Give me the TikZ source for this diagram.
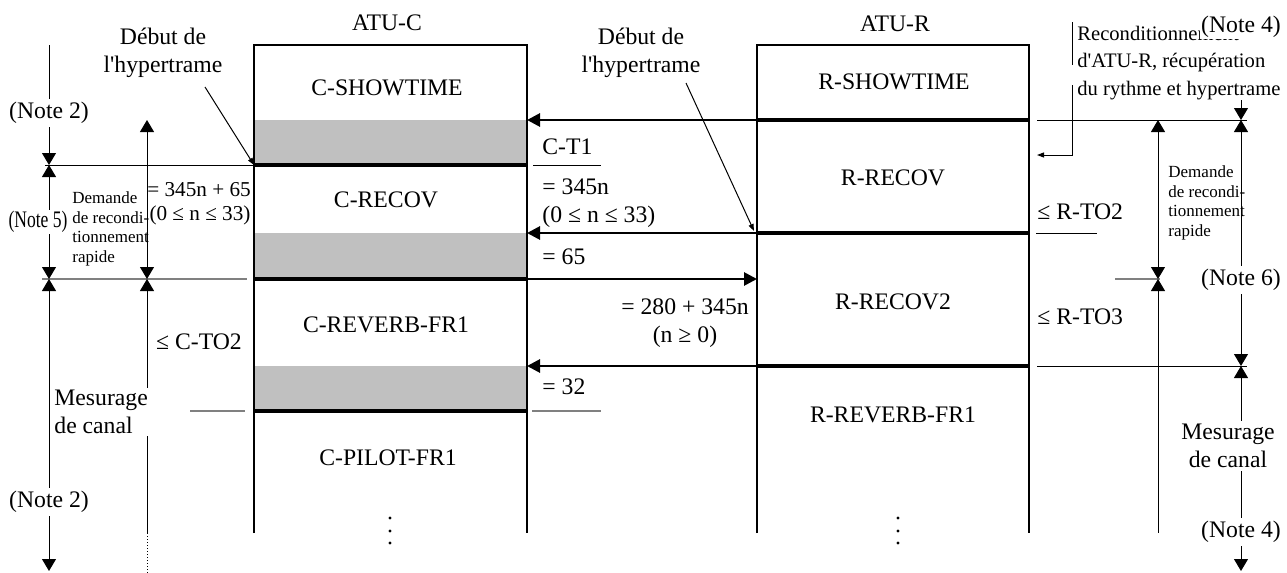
\documentclass[tikz,border=0pt]{standalone}
\usepackage{fontspec}
\usepackage{graphicx}
\setmainfont{Liberation Serif}[Ligatures=TeXOff]
\usetikzlibrary{arrows.meta}
\definecolor{fillgray}{RGB}{192,192,192}
\definecolor{lgray}{RGB}{128,128,128}
\begin{document}
\begin{tikzpicture}[x=0.5pt,y=-0.5pt,
  txt/.style={font=\fontsize{11.85pt}{13.7pt}\selectfont, inner sep=0pt, align=center},
  txtl/.style={font=\fontsize{11.85pt}{13.7pt}\selectfont, inner sep=0pt, align=left},
  mid/.style={font=\fontsize{10.6pt}{12.5pt}\selectfont, inner sep=0pt, align=center},
  rtxt/.style={font=\fontsize{10.3pt}{13.7pt}\selectfont, inner sep=0pt, align=left},
  sml/.style={font=\fontsize{8.5pt}{9.8pt}\selectfont, inner sep=0pt, align=left},
  wbg/.style={fill=white, inner sep=1.5pt},
  boxline/.style={line width=0.9pt},
  sepline/.style={line width=2pt},
  msg/.style={line width=1.4pt, -{Triangle[length=6.5pt,width=6.5pt]}},
  thinl/.style={line width=0.5pt},
  grayl/.style={line width=0.7pt, draw=lgray},
  dt/.tip={Triangle[length=6pt,width=7pt]},
  st/.tip={Triangle[length=3.5pt,width=2.5pt]},
]
\useasboundingbox (0,0) rectangle (1287,573);

% ---------- coordinates ----------
\coordinate (cL45) at (254,45);   \coordinate (cR45) at (527,45);
\coordinate (cL533) at (254,533); \coordinate (cR533) at (527,533);
\coordinate (rL45) at (757,45);   \coordinate (rR45) at (1029,45);
\coordinate (rL533) at (757,533); \coordinate (rR533) at (1029,533);
\foreach \y in {120,165,233,279,366,411}{
  \coordinate (cL\y) at (254,\y); \coordinate (cR\y) at (527,\y);
  \coordinate (rL\y) at (757,\y); \coordinate (rR\y) at (1029,\y);
}

% ---------- ATU-C box ----------
\fill[fillgray] (cL120) rectangle (cR165);
\fill[fillgray] (cL233) rectangle (cR279);
\fill[fillgray] (cL366) rectangle (cR411);
\draw[boxline] (cL533) -- (cL45) -- (cR45) -- (cR533);
\draw[sepline] (cL165) -- (cR165);
\draw[sepline] (cL279) -- (cR279);
\draw[sepline] (cL411) -- (cR411);

% ---------- ATU-R box ----------
\draw[boxline] (rL533) -- (rL45) -- (rR45) -- (rR533);
\draw[sepline] (rL120) -- (rR120);
\draw[sepline] (rL233) -- (rR233);
\draw[sepline] (rL366) -- (rR366);

% ---------- titles and states ----------
\node[txt] (atuc) at (387,23) {ATU-C};
\node[txt] (atur) at (895,24) {ATU-R};
\node[txt] (cshow) at (387,88) {C-SHOWTIME};
\node[txt] (crecov) at (386,200) {C-RECOV};
\node[txt] (creverb) at (386,325) {C-REVERB-FR1};
\node[txt] (cpilot) at (388,458) {C-PILOT-FR1};
\node[txt] (rshow) at (894,82) {R-SHOWTIME};
\node[txt] (rrecov) at (893,178) {R-RECOV};
\node[txt] (rrecov2) at (893,302) {R-RECOV2};
\node[txt] (rreverb) at (893,415) {R-REVERB-FR1};
\foreach \yy in {518,531,543}{
  \fill (390,\yy) circle[radius=0.8pt];
  \fill (898,\yy) circle[radius=0.8pt];
}

% ---------- messages ----------
\draw[msg] (rL120) -- (cR120);
\draw[msg] (rL233) -- (cR233);
\draw[msg] (cR279) -- (rL279);
\draw[msg] (rL366) -- (cR366);

% ---------- middle labels ----------
\node[txt] (deb2) at (641,53) {Début de\\l'hypertrame};
\coordinate (deb2a) at (686,83);
\coordinate (deb2b) at (754,231);
\draw[thinl,-{st}] (deb2a) -- (deb2b);
\node[txtl,anchor=west] (ct1) at (542,147) {C-T1};
\coordinate (u1a) at (533,165); \coordinate (u1b) at (601,165);
\draw[thinl] (u1a) -- (u1b);
\node[txtl,anchor=west] (m345) at (542,187) {= 345n};
\node[txtl,anchor=west] (mn33) at (542,217) {(0 ≤ n ≤ 33)};
\node[txtl,anchor=west] (m65) at (542,257) {= 65};
\node[txt] (m280) at (685,307) {= 280 + 345n};
\node[txt] (mn0) at (685,337) {(n ≥ 0)};
\node[txtl,anchor=west] (m32) at (542,387) {= 32};
\coordinate (u2a) at (532,411); \coordinate (u2b) at (601,411);
\draw[grayl] (u2a) -- (u2b);

% ---------- left side ----------
\coordinate (lh1a) at (45,165);
\draw[thinl] (lh1a) -- (cL165);
\coordinate (lh2a) at (42,279); \coordinate (lh2b) at (247,279);
\draw[grayl] (lh2a) -- (lh2b);
\coordinate (lh3a) at (190,411); \coordinate (lh3b) at (245,411);
\draw[grayl] (lh3a) -- (lh3b);

\node[txt] (deb1) at (163,53) {Début de\\l'hypertrame};
\coordinate (deb1a) at (205,87);
\draw[thinl,-{st}] (deb1a) -- (cL165);

% vertical line x=49
\coordinate (a45) at (49,45); \coordinate (a165) at (49,165);
\coordinate (a279) at (49,279); \coordinate (a571) at (49,571);
\draw[thinl,-{dt}] (a45) -- (a165);
\draw[thinl,{dt}-{dt}] (a165) -- (a279);
\draw[thinl,{dt}-{dt}] (a279) -- (a571);
% vertical line x=147
\coordinate (b120) at (147,120); \coordinate (b279) at (147,279);
\coordinate (b533) at (147,533); \coordinate (b573) at (147,573);
\draw[thinl,{dt}-{dt}] (b120) -- (b279);
\draw[thinl,{dt}-] (b279) -- (b533);
\draw[thinl,densely dotted] (b533) -- (b573);

\node[txt,wbg] (n2a) at (49,113) {(Note 2)};
\node[txt,wbg,inner sep=0.5pt] (n5) at (38,222) {\scalebox{0.74}[1]{(Note 5)}};
\node[txt,wbg] (n2b) at (49,502) {(Note 2)};
\node[txtl,wbg,anchor=west,inner sep=1pt] (mes1) at (52,412) {Mesurage\\de canal};
\node[mid] (eq1) at (199,190) {= 345n + 65};
\node[mid] (eq2) at (200,215) {(0 ≤ n ≤ 33)};
\node[sml,anchor=west] (dem1) at (72,229) {Demande\\de recondi-\\tionnement\\rapide};
\node[txt] (cto2) at (199,342) {≤ C-TO2};

% ---------- right side ----------
\coordinate (rh1a) at (1037,120); \coordinate (rh1b) at (1247,120);
\draw[thinl] (rh1a) -- (rh1b);
\coordinate (rh2a) at (1036,233); \coordinate (rh2b) at (1097,233);
\draw[thinl] (rh2a) -- (rh2b);
\coordinate (rh3a) at (1115,279); \coordinate (rh3b) at (1160,279);
\draw[grayl] (rh3a) -- (rh3b);
\coordinate (rh4a) at (1037,366); \coordinate (rh4b) at (1247,366);
\draw[thinl] (rh4a) -- (rh4b);

% bracket
\coordinate (k1) at (1072,22); \coordinate (k2) at (1072,65);
\coordinate (k3) at (1072,85); \coordinate (k4) at (1072,155);
\coordinate (k5) at (1037,155);
\draw[thinl] (k1) -- (k2);
\draw[thinl,-{st}] (k3) -- (k4) -- (k5);

% vertical x=1158
\coordinate (d120) at (1158,120); \coordinate (d279) at (1158,279);
\coordinate (d533) at (1158,533);
\draw[thinl,{dt}-{dt}] (d120) -- (d279);
\draw[thinl,{dt}-] (d279) -- (d533);
% vertical x=1241
\coordinate (e100) at (1241,100); \coordinate (e120) at (1241,120);
\coordinate (e366) at (1241,366); \coordinate (e571) at (1241,571);
\draw[thinl,-{dt}] (e100) -- (e120);
\draw[thinl,{dt}-{dt}] (e120) -- (e366);
\draw[thinl,{dt}-{dt}] (e366) -- (e571);

\node[rtxt,anchor=west] (recond) at (1077,63) {Reconditionnement\\d'ATU-R, récupération\\du rythme et hypertrame};
\node[txt,wbg,inner sep=0.5pt] (n4a) at (1241,27) {(Note 4)};
\node[sml,anchor=west] (dem2) at (1168,203) {Demande\\de recondi-\\tionnement\\rapide};
\node[txtl,anchor=west] (rto2) at (1037,212) {≤ R-TO2};
\node[txtl,anchor=west] (rto3) at (1037,317) {≤ R-TO3};
\node[txt,wbg] (n6) at (1241,280) {(Note 6)};
\node[txt,wbg] (mes2) at (1228,446) {Mesurage\\de canal};
\node[txt,wbg] (n4b) at (1241,532) {(Note 4)};
\end{tikzpicture}
\end{document}
